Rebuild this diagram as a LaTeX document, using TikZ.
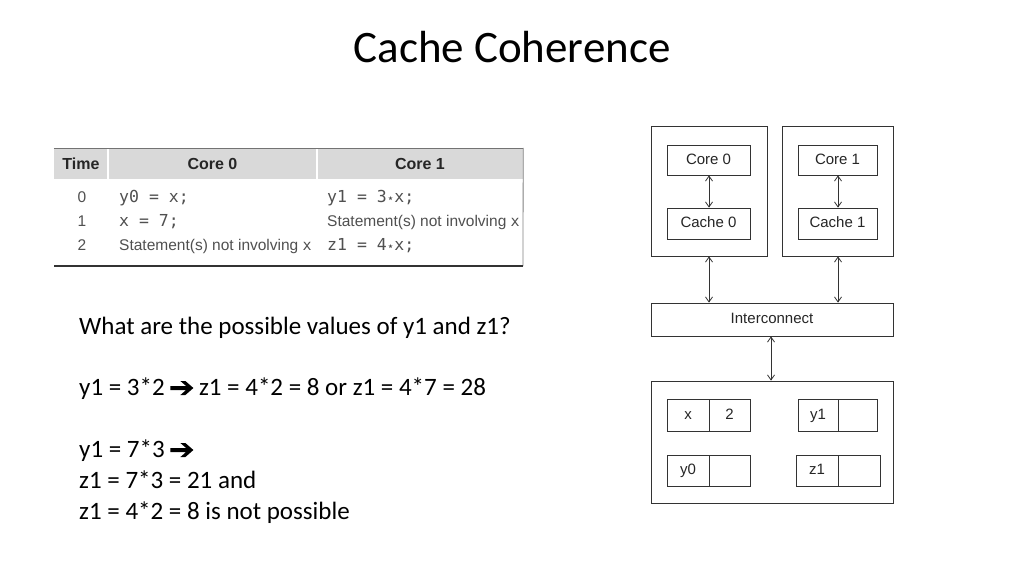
\documentclass[tikz,border=0pt]{standalone}
\usepackage{fontspec}
\setmainfont{Carlito}
\newfontfamily\arial{Liberation Sans}
\newfontfamily\dejavu{DejaVu Sans}
\setmonofont{DejaVu Sans Mono}
\usetikzlibrary{arrows.meta}
\definecolor{hdrgray}{HTML}{D9D9D9}
\definecolor{txtgray}{HTML}{505050}
\definecolor{linegray}{HTML}{333333}
\newcommand{\heavyarrow}{\tikz[baseline=-1pt,x=1pt,y=1pt]{\fill[black] (0,4) -- (15.7,4) -- (10,-1) -- (15,-1) -- (23,6) -- (15,13) -- (10,13) -- (15.7,8) -- (0,8) -- cycle;}}
\begin{document}
\begin{tikzpicture}[x=1pt,y=-1pt,
  box/.style={draw=linegray, line width=0.8pt, inner sep=0pt},
  lbl/.style={font=\arial\fontsize{15}{17}\selectfont, text=black!85, text height=10.5pt, text depth=2.5pt},
  hdr/.style={fill=hdrgray, inner sep=0pt, font=\arial\bfseries\fontsize{16}{18}\selectfont, text=black!85},
  cell/.style={anchor=base west, inner sep=0pt, text=txtgray, font=\arial\fontsize{15.5}{17}\selectfont},
  mono/.style={anchor=base west, inner sep=0pt, text=txtgray, font=\ttfamily\fontsize{16.5}{18}\selectfont},
  body/.style={anchor=base west, inner sep=0pt, font=\fontsize{25}{30}\selectfont},
  biarrow/.style={linegray, line width=0.8pt, {Straight Barb[length=5pt,width=7pt]}-{Straight Barb[length=5pt,width=7pt]}}
]
\useasboundingbox (0,0) rectangle (1024,576);
\fill[white] (0,0) rectangle (1024,576);

% title
\node[inner sep=0pt, anchor=base, font=\fontsize{45}{52}\selectfont] (title) at (512,62) {Cache Coherence};

% table
\node[hdr, minimum width=54, minimum height=31] (hT) at (81,163.5) {Time};
\node[hdr, minimum width=209, minimum height=31] (h0) at (212.5,163.5) {Core 0};
\node[hdr, minimum width=206, minimum height=31] (h1) at (420,163.5) {Core 1};
\draw[white, line width=2pt] (hT.north east) -- (hT.south east);
\draw[white, line width=2pt] (h0.north east) -- (h0.south east);
\draw[black!55, line width=0.6pt] (hT.north west) -- (h1.north east);
\coordinate (tbr) at (523,266);
\coordinate (tbl) at (54,266);
\draw[black!50, line width=0.8pt] (h1.north east) -- (tbr);
\draw[black!80, line width=1.2pt] (tbl) -- (tbr);

\node[cell, anchor=base] (t0) at (82,202) {0};
\node[cell, anchor=base] (t1) at (82,226) {1};
\node[cell, anchor=base] (t2) at (82,250) {2};
\node[mono] (a0) at (119,202) {y0 = x;};
\node[mono] (a1) at (119,226) {x = 7;};
\node[cell] (a2) at (119,250) {Statement(s) not involving {\ttfamily\fontsize{15}{17}\selectfont x}};
\node[mono] (b0) at (327,202) {y1 = 3{\dejavu\fontsize{12}{13}\selectfont ⋆}x;};
\node[cell] (b1) at (327,226) {Statement(s) not involving {\ttfamily\fontsize{15}{17}\selectfont x}};
\node[mono] (b2) at (327,250) {z1 = 4{\dejavu\fontsize{12}{13}\selectfont ⋆}x;};

% body text
\node[body] (q) at (79,334) {What are the possible values of y1 and z1?};
\node[body] (l2) at (79,395) {y1 = 3*2 \heavyarrow{} z1 = 4*2 = 8 or z1 = 4*7 = 28};
\node[body] (l3) at (79,457) {y1 = 7*3 \heavyarrow};
\node[body] (l4) at (79,488) {z1 = 7*3 = 21 and};
\node[body] (l5) at (79,519) {z1 = 4*2 = 8 is not possible};

% diagram
\node[box, minimum width=116, minimum height=130] (p0) at (709,191) {};
\node[box, minimum width=111, minimum height=130] (p1) at (837.5,191) {};
\node[box, lbl, minimum width=83, minimum height=30] (c0) at (708.5,160) {Core 0};
\node[box, lbl, minimum width=79, minimum height=30] (c1) at (837.5,160) {Core 1};
\node[box, lbl, minimum width=83, minimum height=31] (k0) at (708.5,223.5) {Cache 0};
\node[box, lbl, minimum width=79, minimum height=31] (k1) at (837.5,223.5) {Cache 1};
\node[box, lbl, minimum width=242, minimum height=33] (ic) at (772,319.5) {Interconnect};
\node[box, minimum width=242, minimum height=122] (mem) at (772,442) {};

\draw[biarrow] (c0.south -| 709,0) -- (k0.north -| 709,0);
\draw[biarrow] (c1.south -| 838,0) -- (k1.north -| 838,0);
\draw[biarrow] (p0.south -| 709,0) -- (ic.north -| 709,0);
\draw[biarrow] (p1.south -| 838,0) -- (ic.north -| 838,0);
\draw[biarrow] (ic.south -| 771,0) -- (mem.north -| 771,0);

% memory cells
\node[box, lbl, minimum width=42, minimum height=32] (xn) at (688,415) {x};
\node[box, lbl, minimum width=41, minimum height=32] (xv) at (729.5,415) {2};
\node[box, lbl, minimum width=40, minimum height=32] (y1n) at (818,415) {y1};
\node[box, lbl, minimum width=39, minimum height=32] (y1v) at (857.5,415) {};
\node[box, lbl, minimum width=42, minimum height=31] (y0n) at (688,470.5) {y0};
\node[box, lbl, minimum width=41, minimum height=31] (y0v) at (729.5,470.5) {};
\node[box, lbl, minimum width=42, minimum height=31] (z1n) at (817,470.5) {z1};
\node[box, lbl, minimum width=42, minimum height=31] (z1v) at (859,470.5) {};
\end{tikzpicture}
\end{document}
